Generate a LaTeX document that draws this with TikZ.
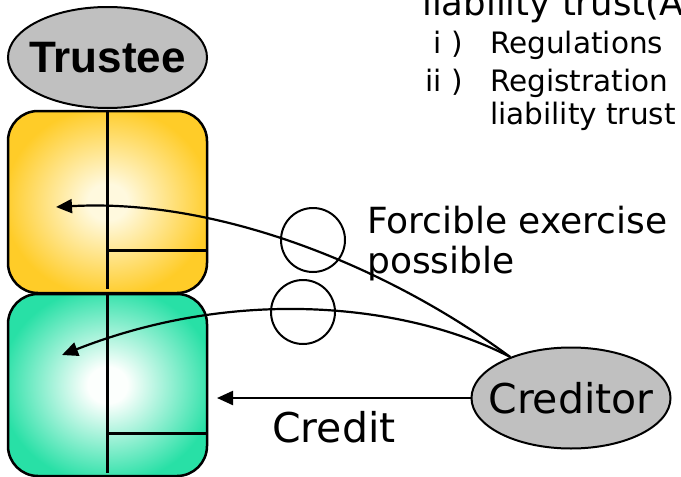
\documentclass[tikz,border=0pt]{standalone}
\usepackage{fontspec}
\setmainfont{DejaVu Sans}
\newfontfamily\labelbold{Liberation Sans}
\usetikzlibrary{shapes.geometric,arrows.meta}

\definecolor{cardgold}{RGB}{255,204,40}
\definecolor{cardcream}{RGB}{255,249,222}
\definecolor{cardmint}{RGB}{40,224,166}
\definecolor{cardwhite}{RGB}{252,255,253}
\definecolor{partygray}{RGB}{192,192,192}

% soft centre-to-edge glows for the two asset cards (card edge = 25bp)
\pgfdeclareradialshading{goldglow}{\pgfpoint{0bp}{0bp}}{color(0bp)=(cardcream); color(5bp)=(cardcream); color(26bp)=(cardgold); color(50bp)=(cardgold)}
\pgfdeclareradialshading{mintglow}{\pgfpoint{0bp}{0bp}}{color(0bp)=(cardwhite); color(5bp)=(cardwhite); color(27bp)=(cardmint); color(50bp)=(cardmint)}

\begin{document}
\begin{tikzpicture}[x=1pt,y=-1pt,
  party/.style={ellipse, draw=black, line width=2pt, fill=partygray,
    minimum width=199pt, minimum height=101pt, inner sep=0pt},
  card/.style={rounded corners=30pt, draw=black, line width=2.5pt,
    minimum width=199pt, minimum height=182pt, inner sep=0pt},
  divider/.style={line width=2.8pt},
  link/.style={line width=2.2pt, -{Triangle[length=16pt,width=14pt]}},
  okmark/.style={circle, draw=black, line width=2pt, minimum size=64pt, inner sep=0pt},
  txt/.style={inner sep=0pt, anchor=base west},
]
\useasboundingbox[fill=white] (0,0) rectangle (681,477);

% heading and list (running off the right edge)
\node[txt, font=\fontsize{35.5}{36}\selectfont] (head) at (422,15) {liability trust(A};
\node[inner sep=0pt, anchor=base east, font=\fontsize{29.5}{30}\selectfont] (num1) at (463,53) {i )};
\node[inner sep=0pt, anchor=base east, font=\fontsize{29.5}{30}\selectfont] (num2) at (463,91) {ii )};
\node[txt, font=\fontsize{29.5}{30}\selectfont] (item1) at (490,53) {Regulations};
\node[txt, font=\fontsize{29.5}{30}\selectfont] (item2) at (490,91) {Registration};
\node[txt, font=\fontsize{29.5}{30}\selectfont] (item2b) at (490,124) {liability trust};

% trustee and its two asset cards
\node[party] (trustee) at (107.5,57.5)
  {\makebox[0pt]{\labelbold\bfseries\fontsize{44}{44}\selectfont Trustee}};
\node[card, shade, shading=goldglow] (gold) at (107.5,202) {};
\node[card, shade, shading=mintglow] (mint) at (107.5,385) {};

\draw[divider] (gold.north) -- ([yshift=5pt]gold.south);
\draw[divider] ([yshift=44pt]gold.south) -- ([yshift=44pt]gold.south east);
\draw[divider] (mint.north) -- ([yshift=4pt]mint.south);
\draw[divider] ([yshift=44pt]mint.south) -- ([yshift=44pt]mint.south east);

% creditor
\node[party] (creditor) at (571,398)
  {\makebox[0pt]{\fontsize{41}{41}\selectfont Creditor}};

\coordinate (goldhit) at (56,207);
\coordinate (minthit) at (62,355);
\coordinate (credithit) at (217,398);

\draw[link] (creditor.146) .. controls (390,268) and (220,198) .. (goldhit);
\draw[link] (creditor.146) .. controls (410,305) and (240,285) .. (minthit);
\draw[link] (creditor.west) -- (credithit);

% circles marking enforceability
\node[okmark] (ok1) at (313,240) {};
\node[okmark] (ok2) at (303,312) {};

\node[txt, font=\fontsize{36}{36}\selectfont] (force1) at (367,233) {Forcible exercise};
\node[txt, font=\fontsize{36}{36}\selectfont] (force2) at (367,273) {possible};
\node[txt, font=\fontsize{41}{41}\selectfont] (creditlbl) at (272,442) {Credit};
\end{tikzpicture}
\end{document}
